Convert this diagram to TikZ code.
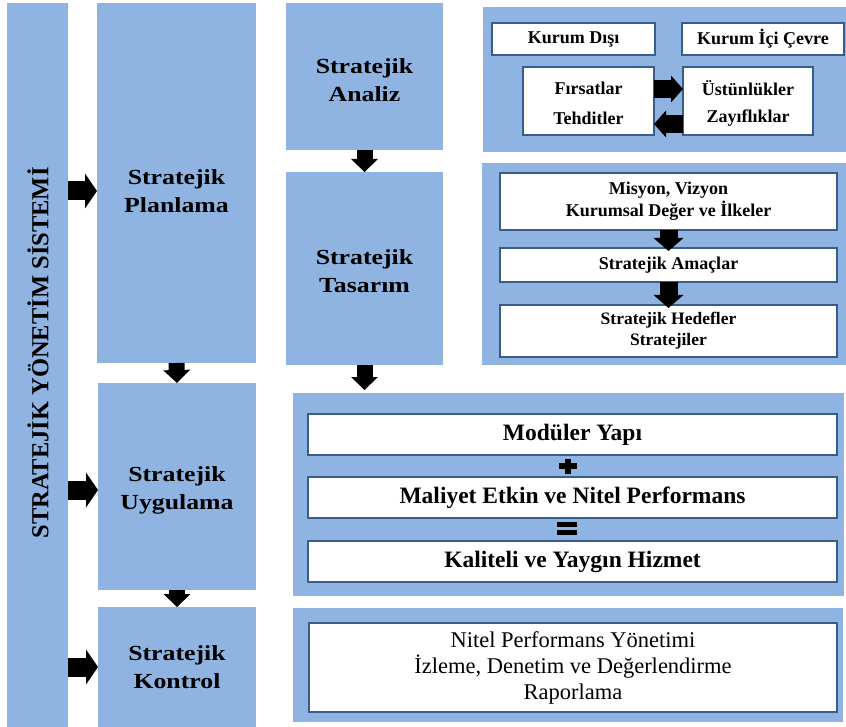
\documentclass[tikz,border=0pt]{standalone}
\usepackage{fontspec}
\setmainfont{Liberation Serif}
\newfontfamily\widefont[FakeStretch=1.2]{Liberation Serif}
\usetikzlibrary{arrows.meta,calc}
\definecolor{panelblue}{RGB}{143,180,226}
\definecolor{edgeblue}{RGB}{56,93,138}
\tikzset{
  panel/.style={fill=panelblue, draw=none, inner sep=0pt, outer sep=0pt},
  wbox/.style={fill=white, draw=edgeblue, line width=2.8pt, inner sep=0pt, outer sep=0pt, align=center},
  bigtxt/.style={font=\widefont\bfseries\fontsize{21.5}{28}\selectfont, align=center, inner sep=0pt},
  vtxt/.style={font=\bfseries\fontsize{24.5}{24.5}\selectfont, inner sep=0pt},
  stxt/.style={font=\bfseries\fontsize{18}{22}\selectfont, inner sep=0pt},
  htxt/.style={font=\bfseries\fontsize{17.5}{21}\selectfont},
  btxt/.style={font=\bfseries\fontsize{23.5}{26}\selectfont},
  ntxt/.style={font=\fontsize{22.5}{26}\selectfont},
  rarrow/.style={draw=black, line width=19pt, -{Triangle[width=35pt,length=12pt,line width=0pt]}},
  darrow/.style={draw=black, line width=16pt, -{Triangle[width=27pt,length=13pt,line width=0pt]}},
  sarrow/.style={draw=black, line width=18pt, -{Triangle[width=27pt,length=12pt,line width=0pt]}},
  marrow/.style={draw=black, line width=18pt, -{Triangle[width=30pt,length=13pt,line width=0pt]}},
}
\newcommand\mybox[7]{\node[#1, minimum width={(#4-#2)*1pt}, minimum height={(#5-#3)*1pt}] (#6) at ({(#2+#4)/2},{(#3+#5)/2}) {#7};}
\begin{document}
\begin{tikzpicture}[x=1pt,y=-1pt]
\useasboundingbox (0,0) rectangle (846,727);
% left column
\mybox{panel}{7}{3}{68}{727}{col}{}
\node[vtxt, rotate=90] (colL) at (38,353) {STRATEJİK YÖNETİM SİSTEMİ};
% second column
\mybox{panel}{97}{3}{256}{363}{pl}{}
\node[bigtxt] (plL) at (176.5,191) {Stratejik\\Planlama};
\mybox{panel}{98}{383}{256}{590}{ug}{}
\node[bigtxt] (ugL) at (177,490) {Stratejik\\Uygulama};
\mybox{panel}{98}{607}{256}{727}{ko}{}
\node[bigtxt] (koL) at (177,667) {Stratejik\\Kontrol};
% third column
\mybox{panel}{286}{3}{443}{150}{an}{}
\node[bigtxt] (anL) at (364.5,80) {Stratejik\\Analiz};
\mybox{panel}{286}{172}{443}{365}{ta}{}
\node[bigtxt] (taL) at (364.5,271) {Stratejik\\Tasarım};
% top right panel
\mybox{panel}{483}{7}{846}{152}{p1}{}
\mybox{wbox,stxt}{492}{23}{655}{55}{kd}{Kurum Dışı}
\mybox{wbox,stxt}{682}{23}{844}{55}{ki}{Kurum İçi Çevre}
\mybox{wbox}{523}{67}{654}{135}{fb}{}
\node[stxt] (fr) at (588.5,88) {Fırsatlar};
\node[stxt] (te) at (588.5,118) {Tehditler};
\mybox{wbox}{683}{67}{813}{135}{ub}{}
\node[stxt] (us) at (748,88) {Üstünlükler};
\node[stxt] (za) at (748,118) {Zayıflıklar};
\coordinate (ay1) at (0,89);
\coordinate (ay2) at (0,124);
\draw[sarrow] (fb.east |- ay1) -- (ub.west |- ay1);
\draw[sarrow] (ub.west |- ay2) -- (fb.east |- ay2);
% middle right panel
\mybox{panel}{482}{163}{846}{365}{p2}{}
\mybox{wbox,stxt}{500}{173}{837}{230}{mi}{Misyon, Vizyon\\Kurumsal Değer ve İlkeler}
\mybox{wbox,stxt}{500}{248}{837}{282}{am}{Stratejik Amaçlar}
\mybox{wbox,htxt}{500}{305}{837}{357}{he}{Stratejik Hedefler\\Stratejiler}
\draw[marrow, shorten >=-3pt] (mi.south) -- (am.north);
\draw[marrow, shorten >=-3pt] (am.south) -- (he.north);
% bottom panel 1
\mybox{panel}{293}{393}{844}{596}{p3}{}
\mybox{wbox,btxt}{308}{414}{837}{455}{mo}{Modüler Yapı}
\mybox{wbox,btxt}{308}{477}{837}{518}{ma}{Maliyet Etkin ve Nitel Performans}
\mybox{wbox,btxt}{308}{541}{837}{582}{ka}{Kaliteli ve Yaygın Hizmet}
\fill[black] (559,463) rectangle (577,469);
\fill[black] (565,459) rectangle (571,474);
\fill[black] (557,522) rectangle (577,527);
\fill[black] (557,530) rectangle (577,535);
% bottom panel 2
\mybox{panel}{293}{608}{843}{722}{p4}{}
\mybox{wbox,ntxt}{309}{623}{837}{712}{ni}{Nitel Performans Yönetimi\\İzleme, Denetim ve Değerlendirme\\Raporlama}
% arrows
\draw[rarrow] (col.east |- plL) -- (pl.west |- plL);
\draw[rarrow] (col.east |- ugL) -- (ug.west |- ugL);
\draw[rarrow] (col.east |- koL) -- (ko.west |- koL);
\draw[darrow] (pl.south) -- (ug.north);
\draw[darrow] (ug.south) -- (ko.north);
\draw[darrow] (an.south) -- (ta.north);
\draw[darrow, shorten >=3pt] (ta.south) -- (ta.south |- p3.north);
\end{tikzpicture}
\end{document}
